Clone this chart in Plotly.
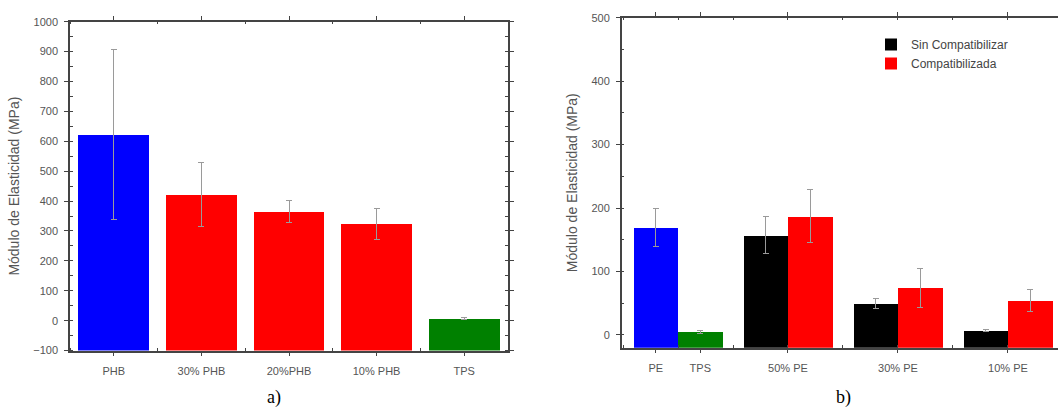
import plotly.graph_objects as go

# ---------------- Panel a) data ----------------
cats_a = ["PHB", "30% PHB", "20%PHB", "10% PHB", "TPS"]
vals_a = [622, 421, 364, 324, 6]
err_a = [285, 107, 37, 52, 3]
colors_a = ["#0000FF", "#FF0000", "#FF0000", "#FF0000", "#008000"]

# ---------------- Panel b) data ----------------
single_b = ["PE", "TPS"]
single_vals = [169, 5]
single_err = [30, 2]
single_colors = ["#0000FF", "#008000"]

groups_b = ["50% PE", "30% PE", "10% PE"]
sin_vals = [157, 50, 7]
sin_err = [29, 8, 2]
comp_vals = [187, 74, 54]
comp_err = [42, 31, 17]

series_names = ["Sin Compatibilizar", "Compatibilizada"]

YMIN_A, YMAX_A = -100, 1000
YMIN_B, YMAX_B = -20, 500

FONT = "Liberation Sans, Arial, sans-serif"
TXT = "#555555"
AX = "#444444"
ERR = "#9a9a9a"

fig = go.Figure()

# Panel a bars (base at the axis minimum, as in the original)
xa = list(range(len(cats_a)))
fig.add_trace(go.Bar(
    x=xa, y=[v - YMIN_A for v in vals_a], base=YMIN_A,
    marker=dict(color=colors_a, line=dict(width=0)),
    width=0.81,
    error_y=dict(type="data", array=err_a, color=ERR, thickness=1, width=3),
    showlegend=False, xaxis="x", yaxis="y",
))

# Panel b bars
bw = 0.405
xg = list(range(1, len(groups_b) + 1))
fig.add_trace(go.Bar(
    x=[-bw / 2, bw / 2], y=[v - YMIN_B for v in single_vals], base=YMIN_B,
    marker=dict(color=single_colors, line=dict(width=0)),
    width=bw,
    error_y=dict(type="data", array=single_err, color=ERR, thickness=1, width=3),
    showlegend=False, xaxis="x2", yaxis="y2",
))
fig.add_trace(go.Bar(
    x=[g - bw / 2 for g in xg], y=[v - YMIN_B for v in sin_vals], base=YMIN_B,
    marker=dict(color="#000000", line=dict(width=0)),
    width=bw, name=series_names[0],
    error_y=dict(type="data", array=sin_err, color=ERR, thickness=1, width=3),
    xaxis="x2", yaxis="y2",
))
fig.add_trace(go.Bar(
    x=[g + bw / 2 for g in xg], y=[v - YMIN_B for v in comp_vals], base=YMIN_B,
    marker=dict(color="#FF0000", line=dict(width=0)),
    width=bw, name=series_names[1],
    error_y=dict(type="data", array=comp_err, color=ERR, thickness=1, width=3),
    xaxis="x2", yaxis="y2",
))

tickfont = dict(family=FONT, size=11, color=TXT)
titlefont = dict(family=FONT, size=14, color=TXT)

common_axis = dict(
    showgrid=False, zeroline=False, showline=True, linecolor=AX, linewidth=1.5,
    ticks="outside", ticklen=4, tickcolor=AX, tickwidth=1,
    tickfont=tickfont, automargin=False,
)

fig.update_layout(
    width=1058, height=410, autosize=False,
    margin=dict(l=0, r=0, t=0, b=0),
    paper_bgcolor="white", plot_bgcolor="white",
    bargap=0, barmode="overlay",
    xaxis=dict(
        **common_axis, domain=[70 / 1058, 508 / 1058], anchor="y",
        range=[-0.5, len(cats_a) - 0.5], ticklabelstandoff=5,
        tickmode="array", tickvals=xa, ticktext=cats_a, mirror="ticks",
        minor=dict(tickmode="linear", tick0=0.5, dtick=1, ticks="inside",
                   ticklen=3, tickcolor=AX),
    ),
    yaxis=dict(
        **common_axis, domain=[0.1449, 0.9471], anchor="x",
        range=[YMIN_A, YMAX_A], dtick=100, mirror="ticks", ticklabelstandoff=4,
        minor=dict(dtick=50, ticks="inside", ticklen=3, tickcolor=AX),
        title=dict(text="Módulo de Elasticidad (MPa)", font=titlefont, standoff=10),
    ),
    xaxis2=dict(
        **common_axis, domain=[621.7 / 1058, 1.0], anchor="y2",
        range=[-0.512, 3.455], ticklabelstandoff=5,
        tickmode="array", tickvals=[-bw / 2, bw / 2] + xg,
        ticktext=single_b + groups_b, mirror="ticks",
        minor=dict(tickmode="linear", tick0=0.5, dtick=0.5, ticks="inside",
                   ticklen=3, tickcolor=AX),
    ),
    yaxis2=dict(
        **common_axis, domain=[0.1520, 0.9568], anchor="x2",
        range=[YMIN_B, YMAX_B], dtick=100, mirror=False, ticklabelstandoff=4,
        minor=dict(dtick=50, ticks="inside", ticklen=3, tickcolor=AX),
        title=dict(text="Módulo de Elasticidad (MPa)", font=titlefont, standoff=10),
    ),
    legend=dict(
        x=871 / 1058, y=1 - 30 / 410, xanchor="left", yanchor="top",
        font=dict(family=FONT, size=12, color="#444444"),
        bgcolor="rgba(0,0,0,0)", tracegroupgap=0, itemwidth=30,
    ),
    annotations=[
        dict(text="a)", x=265 / 1058, y=0, xref="paper", yref="paper",
             yanchor="bottom", showarrow=False,
             font=dict(family="Liberation Serif, Times New Roman, serif", size=18, color="black")),
        dict(text="b)", x=853 / 1058, y=0, xref="paper", yref="paper",
             yanchor="bottom", showarrow=False,
             font=dict(family="Liberation Serif, Times New Roman, serif", size=18, color="black")),
    ],
)

fig.write_html("out.html", post_script="document.body.style.margin='0';",
               config={"displayModeBar": False})
